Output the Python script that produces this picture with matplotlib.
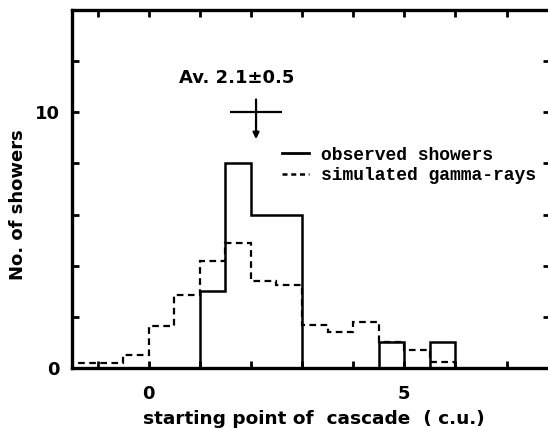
import matplotlib
matplotlib.use("Agg")
import matplotlib.pyplot as plt
from matplotlib.lines import Line2D

# ---- data ----
obs_edges = [1.0, 1.5, 2.0, 2.5, 3.0, 3.5, 4.0, 4.5, 5.0, 5.5, 6.0]
obs_counts = [3, 8, 6, 6, 0, 0, 0, 1, 0, 1]

sim_edges = [-1.5, -1.0, -0.5, 0.0, 0.5, 1.0, 1.5, 2.0, 2.5, 3.0, 3.5, 4.0, 4.5, 5.0, 5.5, 6.0]
sim_counts = [0.2, 0.2, 0.5, 1.65, 2.85, 4.2, 4.9, 3.4, 3.25, 1.7, 1.4, 1.8, 1.0, 0.7, 0.25]

avg_value = 2.1
avg_error = 0.5
avg_text = "Av. 2.1\u00b10.5"

x_ticks = [-1, 0, 1, 2, 3, 4, 5, 6, 7]
x_tick_labels = ["", "0", "", "", "", "", "5", "", ""]
y_ticks = [0, 2, 4, 6, 8, 10, 12]
y_tick_labels = ["0", "", "", "", "", "10", ""]

legend_labels = ["observed showers", "simulated gamma-rays"]

# ---- figure ----
fig = plt.figure(figsize=(5.48, 4.30), dpi=100)
ax = fig.add_axes([72 / 548, 62 / 430, 478 / 548, 358 / 430])

ax.stairs(obs_counts, obs_edges, baseline=0, color="black", lw=1.8)
ax.stairs(sim_counts, sim_edges, baseline=0, color="black", lw=1.6,
          linestyle=(0, (3, 2)))

ax.set_xlim(-1.5, 7.85)
ax.set_ylim(0, 14)

ax.set_xticks(x_ticks)
ax.set_xticklabels(x_tick_labels)
ax.set_yticks(y_ticks)
ax.set_yticklabels(y_tick_labels)

ax.tick_params(direction="in", top=True, right=True, length=5, width=2,
               labelsize=13)
ax.tick_params(axis="x", pad=12)
ax.tick_params(axis="y", pad=9)
for lab in ax.get_xticklabels() + ax.get_yticklabels():
    lab.set_fontweight("bold")

for s in ax.spines.values():
    s.set_linewidth(2.4)

ax.set_xlabel("starting point of  cascade  ( c.u.)", fontsize=13.3,
              fontweight="bold")
ax.xaxis.set_label_coords(0.507, -0.118)
ax.set_ylabel("No. of showers", fontsize=13, fontweight="bold")
ax.yaxis.set_label_coords(-0.095, 0.455)

# average marker with error bar and arrow
ax.errorbar([avg_value], [10], xerr=[avg_error], fmt="none", ecolor="black",
            elinewidth=1.6, capsize=0)
ax.annotate("", xy=(avg_value, 8.95), xytext=(avg_value, 10.5),
            arrowprops=dict(arrowstyle="-|>", lw=1.6, color="black",
                            mutation_scale=9, shrinkA=0, shrinkB=0))
ax.text(avg_value - 0.38, 11.35, avg_text, fontsize=13, fontweight="bold",
        ha="center", va="center")

handles = [Line2D([0], [0], color="black", lw=2.0),
           Line2D([0], [0], color="black", lw=1.8, linestyle=(0, (2, 1.5)))]
leg = ax.legend(handles, legend_labels, loc="upper left",
                bbox_to_anchor=(0.4387, 0.618), frameon=False,
                prop={"family": "Liberation Mono", "weight": "bold", "size": 13.0},
                handlelength=1.5, handletextpad=0.65, labelspacing=0.2,
                borderpad=0, borderaxespad=0)

fig.savefig("out.png", dpi=100)
